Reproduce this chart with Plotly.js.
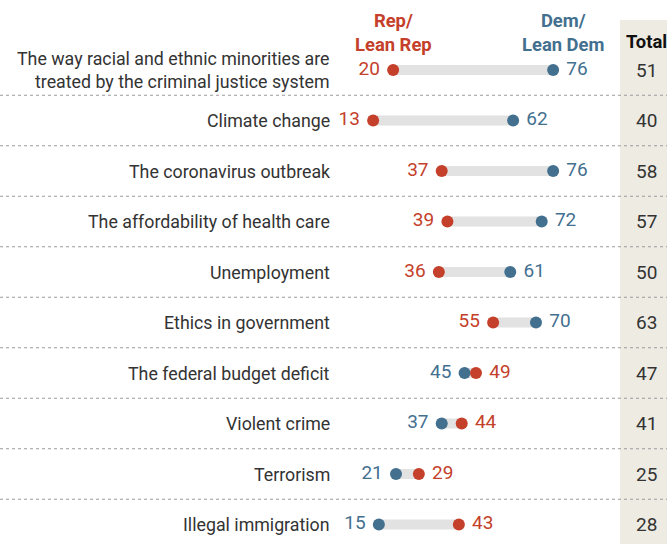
<!DOCTYPE html>
<html>
<head>
<meta charset="utf-8">
<script src="https://cdn.plot.ly/plotly-3.0.1.min.js"></script>
<style>html,body{margin:0;padding:0;background:#fff;}#chart{width:667px;height:544px;}</style>
</head>
<body>
<div id="chart"></div>
<script>
var categories = [
  "The way racial and ethnic minorities are<br>treated by the criminal justice system",
  "Climate change",
  "The coronavirus outbreak",
  "The affordability of health care",
  "Unemployment",
  "Ethics in government",
  "The federal budget deficit",
  "Violent crime",
  "Terrorism",
  "Illegal immigration"
];
var repValues = [20, 13, 37, 39, 36, 55, 49, 44, 29, 43];
var demValues = [76, 62, 76, 72, 61, 70, 45, 37, 21, 15];
var totalValues = [51, 40, 58, 57, 50, 63, 47, 41, 25, 28];
var repLabel = "Rep/<br>Lean Rep";
var demLabel = "Dem/<br>Lean Dem";
var totalLabel = "Total";

var RED = "#c4402a", BLUE = "#44708f", GRAY = "#e2e2e2", TXT = "#333333";
var FONT = "Roboto, 'Liberation Sans', sans-serif";
var W = 667, H = 544;
var SP = "\u00a0";

var rows = categories.map(function(_, i){ return i; });

var bx = [], by = [];
rows.forEach(function(i){ bx.push(repValues[i], demValues[i], null); by.push(i, i, null); });

function labelText(vals, other, i) {
  return vals[i] >= other[i] ? SP + vals[i] : vals[i] + SP;
}

var traces = [
  {x: bx, y: by, mode: "lines", line: {color: GRAY, width: 10}, hoverinfo: "skip", showlegend: false},
  {x: demValues, y: rows, mode: "markers+text", marker: {color: BLUE, size: 12},
   text: rows.map(function(i){ return labelText(demValues, repValues, i); }),
   textposition: rows.map(function(i){ return demValues[i] >= repValues[i] ? "middle right" : "middle left"; }),
   textfont: {family: FONT, size: 19, color: BLUE}, cliponaxis: false, showlegend: false, hoverinfo: "skip"},
  {x: repValues, y: rows, mode: "markers+text", marker: {color: RED, size: 12},
   text: rows.map(function(i){ return repValues[i] > demValues[i] ? SP + repValues[i] : repValues[i] + SP; }),
   textposition: rows.map(function(i){ return repValues[i] > demValues[i] ? "middle right" : "middle left"; }),
   textfont: {family: FONT, size: 19, color: RED}, cliponaxis: false, showlegend: false, hoverinfo: "skip"}
];

var pxPerUnit = 2.857, x0px = 336;
var rowTop = 70, rowStep = 50.5;

var shapes = [
  {type: "rect", xref: "paper", yref: "paper", x0: 620/W, x1: 1, y0: 0, y1: 1 - 20/H,
   fillcolor: "#eeebe3", line: {width: 0}, layer: "below"}
];
for (var i = 0; i < categories.length - 1; i++) {
  shapes.push({type: "line", xref: "paper", yref: "y", x0: 0, x1: 1, y0: i + 0.5, y1: i + 0.5,
    line: {color: "#9a9a9a", width: 1, dash: "dot"}, layer: "below"});
}

var annotations = [];
rows.forEach(function(i){
  annotations.push({xref: "paper", yref: "y", x: 332/W, y: i, xanchor: "right", yanchor: "middle",
    text: categories[i], showarrow: false, align: "right",
    font: {family: FONT, size: 17.8, color: TXT}});
  annotations.push({xref: "paper", yref: "y", x: 646/W, y: i, xanchor: "center", yanchor: "middle",
    text: String(totalValues[i]), showarrow: false,
    font: {family: FONT, size: 19, color: TXT}});
});
annotations.push({xref: "paper", yref: "paper", x: 393/W, y: 1 - 32/H, xanchor: "center", yanchor: "middle",
  text: "<b>" + repLabel + "</b>", showarrow: false, align: "center",
  font: {family: FONT, size: 18.4, color: RED}});
annotations.push({xref: "paper", yref: "paper", x: 563/W, y: 1 - 32/H, xanchor: "center", yanchor: "middle",
  text: "<b>" + demLabel + "</b>", showarrow: false, align: "center",
  font: {family: FONT, size: 18.4, color: BLUE}});
annotations.push({xref: "paper", yref: "paper", x: 646/W, y: 1 - 42/H, xanchor: "center", yanchor: "middle",
  text: "<b>" + totalLabel + "</b>", showarrow: false,
  font: {family: FONT, size: 18.4, color: "#111"}});

var layout = {
  width: W, height: H,
  margin: {l: 0, r: 0, t: 0, b: 0},
  paper_bgcolor: "#fff", plot_bgcolor: "rgba(0,0,0,0)",
  xaxis: {range: [-x0px/pxPerUnit, (W - x0px)/pxPerUnit], visible: false, fixedrange: true},
  yaxis: {range: [(H - rowTop)/rowStep, -rowTop/rowStep], visible: false, fixedrange: true},
  shapes: shapes,
  annotations: annotations,
  showlegend: false
};

Plotly.newPlot("chart", traces, layout, {displayModeBar: false, staticPlot: true});
</script>
</body>
</html>
